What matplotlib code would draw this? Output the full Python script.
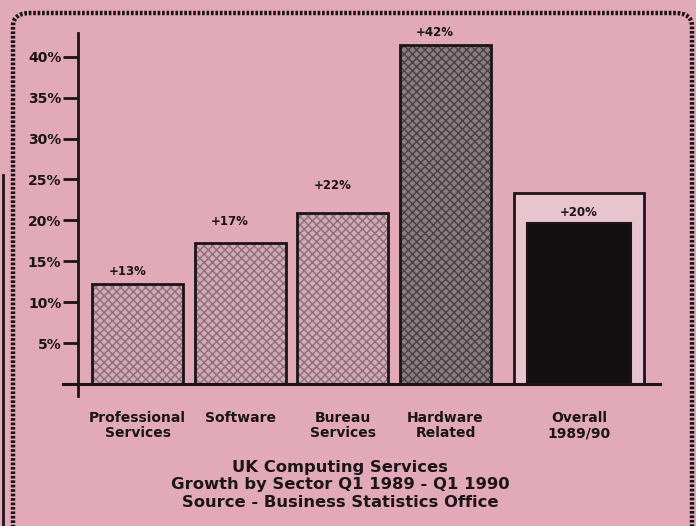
import numpy as np
import matplotlib
matplotlib.use('Agg')
import matplotlib.pyplot as plt
from matplotlib.patches import FancyBboxPatch

# data
sectors = ["Professional\nServices", "Software", "Bureau\nServices", "Hardware\nRelated", "Overall\n1989/90"]
bar_heights = [12.2, 17.2, 20.9, 41.4, 19.7]
growth_labels = ["+13%", "+17%", "+22%", "+42%", "+20%"]
overall_frame = 23.3
y_ticks = [5, 10, 15, 20, 25, 30, 35, 40]
y_tick_labels = ["5%", "10%", "15%", "20%", "25%", "30%", "35%", "40%"]
title_lines = ["UK Computing Services",
               "Growth by Sector Q1 1989 - Q1 1990",
               "Source - Business Statistics Office"]

BG = '#E2AAB9'
INK = '#1c1418'

W, H = 696, 526
fig = plt.figure(figsize=(W / 100, H / 100), dpi=100)
fig.patch.set_facecolor(BG)

# rounded dotted frame round the whole chart (bottom edge runs off the page)
frame = FancyBboxPatch((13 / W, -40 / H), (692 - 13) / W, (513 + 40) / H,
                       boxstyle="round,pad=0,rounding_size=0.025",
                       transform=fig.transFigure, fill=False,
                       edgecolor=INK, linewidth=3.2, linestyle=(0, (0.6, 0.4)))
fig.patches.append(frame)
# edge of the neighbouring page column
fig.add_artist(plt.Line2D([3 / W, 3 / W], [0, 1 - 175 / H], transform=fig.transFigure,
                          color=INK, linewidth=2))

left_px, right_px, top_px, bot_px = 78, 660, 33, 396
ax = fig.add_axes([left_px / W, 1 - bot_px / H, (right_px - left_px) / W, (bot_px - top_px) / H])
ax.set_facecolor('none')

pos = np.array([0, 1, 2, 3, 4.3])
ax.set_xlim(-0.58, 5.09)
ax.set_ylim(-1.47, 42.9)

fills = ['#D3A9B7', '#D3A9B7', '#D3A9B7', '#8a7d82']
dots = ['#8c6f7a', '#8c6f7a', '#8c6f7a', '#4a4044']
w = 0.886
for i in range(4):
    ax.bar(pos[i], bar_heights[i], width=w, color=fills[i], edgecolor=dots[i],
           hatch='xxxx', linewidth=0, zorder=2)
    ax.bar(pos[i], bar_heights[i], width=w, fill=False, edgecolor=INK,
           linewidth=2, zorder=3)

# overall: light frame bar with the black bar inside
ax.bar(pos[4], overall_frame, width=1.27, color='#E8C4CF', edgecolor=INK, linewidth=2, zorder=2)
ax.bar(pos[4], bar_heights[4], width=1.01, color='#141012', edgecolor=INK, linewidth=1.5, zorder=3)

label_gap = [1.5, 2.6, 3.3, 1.5, 1.2]
for i in range(5):
    ax.text(pos[i] - (0.1 if i < 4 else 0), bar_heights[i] + label_gap[i], growth_labels[i],
            ha='center', va='center', fontsize=8.5, fontweight='bold', color=INK, zorder=4)

ax.axhline(0, xmin=(63 - left_px) / (right_px - left_px), xmax=1, color=INK,
           linewidth=2.2, clip_on=False, zorder=4)

for s in ['top', 'right', 'bottom']:
    ax.spines[s].set_visible(False)
ax.spines['left'].set_linewidth(2)
ax.spines['left'].set_color(INK)

ax.set_yticks(y_ticks)
ax.set_yticklabels(y_tick_labels, fontsize=10, fontweight='bold', color=INK)
ax.tick_params(axis='y', length=11, width=2, pad=1, color=INK)

ax.set_xticks(pos)
ax.set_xticklabels(sectors, fontsize=10, fontweight='bold', color=INK, linespacing=1.1)
ax.tick_params(axis='x', length=0, pad=11)

fig.text(340 / W, 1 - 460 / H, "\n".join(title_lines), ha='center', va='top',
         fontsize=11.8, fontweight='bold', color=INK, linespacing=1.2)

fig.savefig('out.png', dpi=100, facecolor=BG)
